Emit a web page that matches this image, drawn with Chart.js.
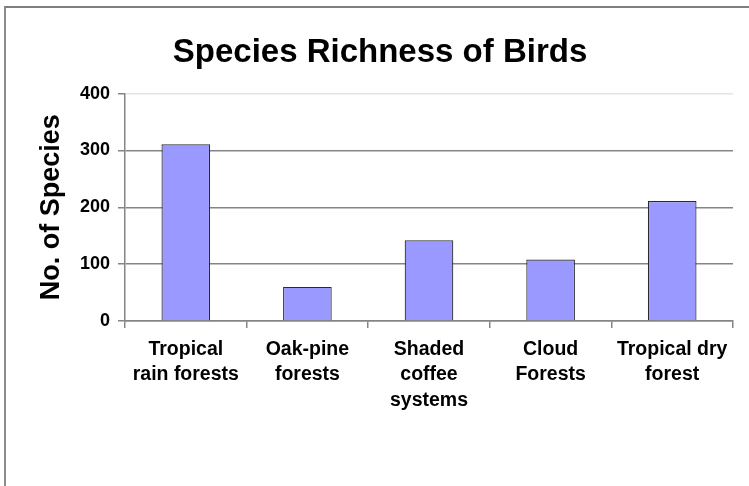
<!DOCTYPE html>
<html>
<head>
<meta charset="utf-8">
<script src="https://cdn.jsdelivr.net/npm/chart.js@4"></script>
<style>
  body { margin: 0; background: #fff; }
  .frame {
    position: absolute; left: 4px; top: 6px; right: -10px; bottom: -10px;
    border-top: 2px solid #7f7f7f; border-left: 2px solid #8c8c8c;
  }
  canvas { position: absolute; left: 0; top: 0; }
</style>
</head>
<body>
<div class="frame"></div>
<canvas id="chart" width="749" height="486"></canvas>
<script>
const habitats = [
  ['Tropical', 'rain forests'],
  ['Oak-pine', 'forests'],
  ['Shaded', 'coffee', 'systems'],
  ['Cloud', 'Forests'],
  ['Tropical dry', 'forest']
]
const speciesCount = [311, 60, 142, 108, 211]
const yTicks = [0, 100, 200, 300, 400]

const font = 'Liberation Sans, Arial, sans-serif'
const gridGrey = '#858585'

const config = {
  type: 'bar',
  data: {
    labels: habitats,
    datasets: [{
      label: 'No. of Species',
      data: speciesCount,
      backgroundColor: '#9999ff',
      borderColor: '#2a2a33',
      borderWidth: 1.2,
      barPercentage: 0.4,
      categoryPercentage: 1
    }]
  },
  options: {
    responsive: false,
    animation: false,
    layout: { padding: { left: 27, right: 16, top: 0, bottom: 0 } },
    plugins: {
      legend: { display: false },
      tooltip: { enabled: false },
      title: {
        display: true,
        text: 'Species Richness of Birds',
        color: '#000',
        font: { family: font, size: 33, weight: 'bold' },
        padding: { top: 33, bottom: 21 }
      }
    },
    scales: {
      x: {
        afterFit: (scale) => { scale.height = 165 },
        grid: {
          offset: true,
          drawOnChartArea: false,
          drawTicks: true,
          tickLength: 7,
          tickColor: gridGrey,
          lineWidth: 1.5
        },
        border: { color: gridGrey, width: 1.5 },
        ticks: {
          color: '#000',
          padding: 9,
          maxRotation: 0,
          autoSkip: false,
          font: { family: font, size: 19.5, weight: 'bold', lineHeight: 1.3 }
        }
      },
      y: {
        min: 0,
        max: 400,
        afterFit: (scale) => { scale.width = 98 },
        afterBuildTicks: (scale) => { scale.ticks = yTicks.map(v => ({ value: v })) },
        grid: {
          color: (ctx) => ctx.tick && ctx.tick.value === 400 ? '#e4e4e4' : gridGrey,
          tickColor: gridGrey,
          tickLength: 7,
          lineWidth: 1.5
        },
        border: { color: gridGrey, width: 1.5 },
        ticks: {
          color: '#000',
          padding: 8,
          font: { family: font, size: 18, weight: 'bold' }
        },
        title: {
          display: true,
          text: 'No. of Species',
          color: '#000',
          font: { family: font, size: 27, weight: 'bold' },
          padding: { top: 8, bottom: 0 }
        }
      }
    }
  }
}

new Chart(document.getElementById('chart'), config)
</script>
</body>
</html>
